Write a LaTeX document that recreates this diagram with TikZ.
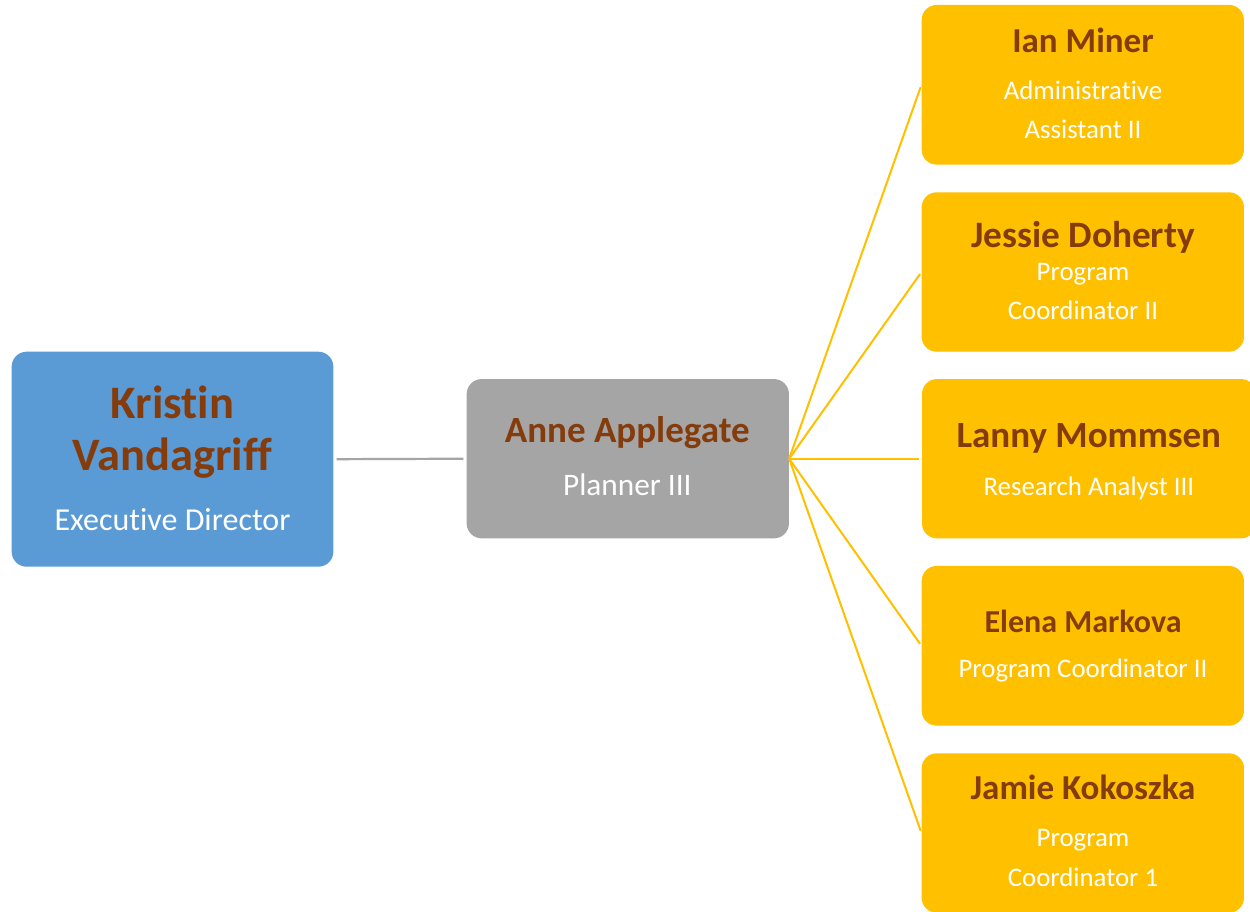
\documentclass[tikz,border=0pt]{standalone}
\usepackage{fontspec}
\setmainfont{Carlito}[Ligatures={NoCommon,NoContextual,NoRequired}]
\definecolor{bluebox}{HTML}{5B9BD5}
\definecolor{graybox}{HTML}{A5A5A5}
\definecolor{yellowbox}{HTML}{FFC000}
\definecolor{namebrown}{HTML}{843C0C}
\tikzset{
  card/.style={inner sep=0pt, rounded corners=15pt, draw=none},
  nametext/.style={anchor=base, inner sep=0pt, text=namebrown},
  titletext/.style={anchor=base, inner sep=0pt, text=white},
  yline/.style={draw=yellowbox, line width=2pt, shorten >=2.5pt},
  gline/.style={draw=graybox, line width=2.2pt, shorten >=3pt, shorten <=3pt},
}
\newcommand{\fsz}[1]{\fontsize{#1}{#1}\selectfont}
\begin{document}
\begin{tikzpicture}[x=1pt,y=-1pt]
\clip (0,0) rectangle (1250,911);
\fill[white] (0,0) rectangle (1250,911);
% boxes
\node[card, fill=bluebox, minimum width=321.7pt, minimum height=215pt] (kristin) at (172.5,459.2) {};
\node[card, fill=graybox, minimum width=322.3pt, minimum height=159.3pt] (anne) at (627.8,458.7) {};
\node[card, fill=yellowbox, minimum width=322.3pt, minimum height=159.7pt] (ian) at (1082.8,84.8) {};
\node[card, fill=yellowbox, minimum width=322.3pt, minimum height=159.4pt] (jessie) at (1082.8,272) {};
\node[card, fill=yellowbox, minimum width=334pt, minimum height=159.3pt] (lanny) at (1089,458.7) {};
\node[card, fill=yellowbox, minimum width=322.3pt, minimum height=159.7pt] (elena) at (1082.8,645.8) {};
\node[card, fill=yellowbox, minimum width=322.3pt, minimum height=159.4pt] (jamie) at (1082.8,833) {};
% connectors
\draw[gline] (kristin.east) -- (anne.west);
\foreach \b in {ian,jessie,lanny,elena,jamie}{
  \draw[yline] (anne.east) -- (\b.west);
}
% texts
\node[nametext, font=\bfseries\fsz{46.5}] (k1) at (172.5,418) {Kristin};
\node[nametext, font=\bfseries\fsz{46.5}] (k2) at (172.5,470) {Vandagriff};
\node[titletext, font=\fsz{32}] (k3) at (172.5,530.7) {Executive Director};

\node[nametext, font=\bfseries\fsz{37}] (a1) at (627.3,442.7) {Anne Applegate};
\node[titletext, font=\fsz{31.3}] (a2) at (627.3,495) {Planner III};

\node[nametext, font=\bfseries\fsz{35}] (i1) at (1083,52.3) {Ian Miner};
\node[titletext, font=\fsz{26.8}] (i2) at (1083,99) {Administrative};
\node[titletext, font=\fsz{26.8}] (i3) at (1083,138.3) {Assistant II};

\node[nametext, font=\bfseries\fsz{37.3}] (j1) at (1083,247.3) {Jessie Doherty};
\node[titletext, font=\fsz{26.8}] (j2) at (1083,280) {Program};
\node[titletext, font=\fsz{26.8}] (j3) at (1083,319.3) {Coordinator II};

\node[nametext, font=\bfseries\fsz{37}] (l1) at (1088.8,447.3) {Lanny Mommsen};
\node[titletext, font=\fsz{26.8}] (l2) at (1088.8,495) {Research Analyst III};

\node[nametext, font=\bfseries\fsz{32}] (e1) at (1083,632.7) {Elena Markova};
\node[titletext, font=\fsz{26.8}] (e2) at (1083,677.3) {Program Coordinator II};

\node[nametext, font=\bfseries\fsz{35}] (m1) at (1083,799.3) {Jamie Kokoszka};
\node[titletext, font=\fsz{26.8}] (m2) at (1083,846.7) {Program};
\node[titletext, font=\fsz{26.8}] (m3) at (1083,886.7) {Coordinator 1};
\end{tikzpicture}
\end{document}
